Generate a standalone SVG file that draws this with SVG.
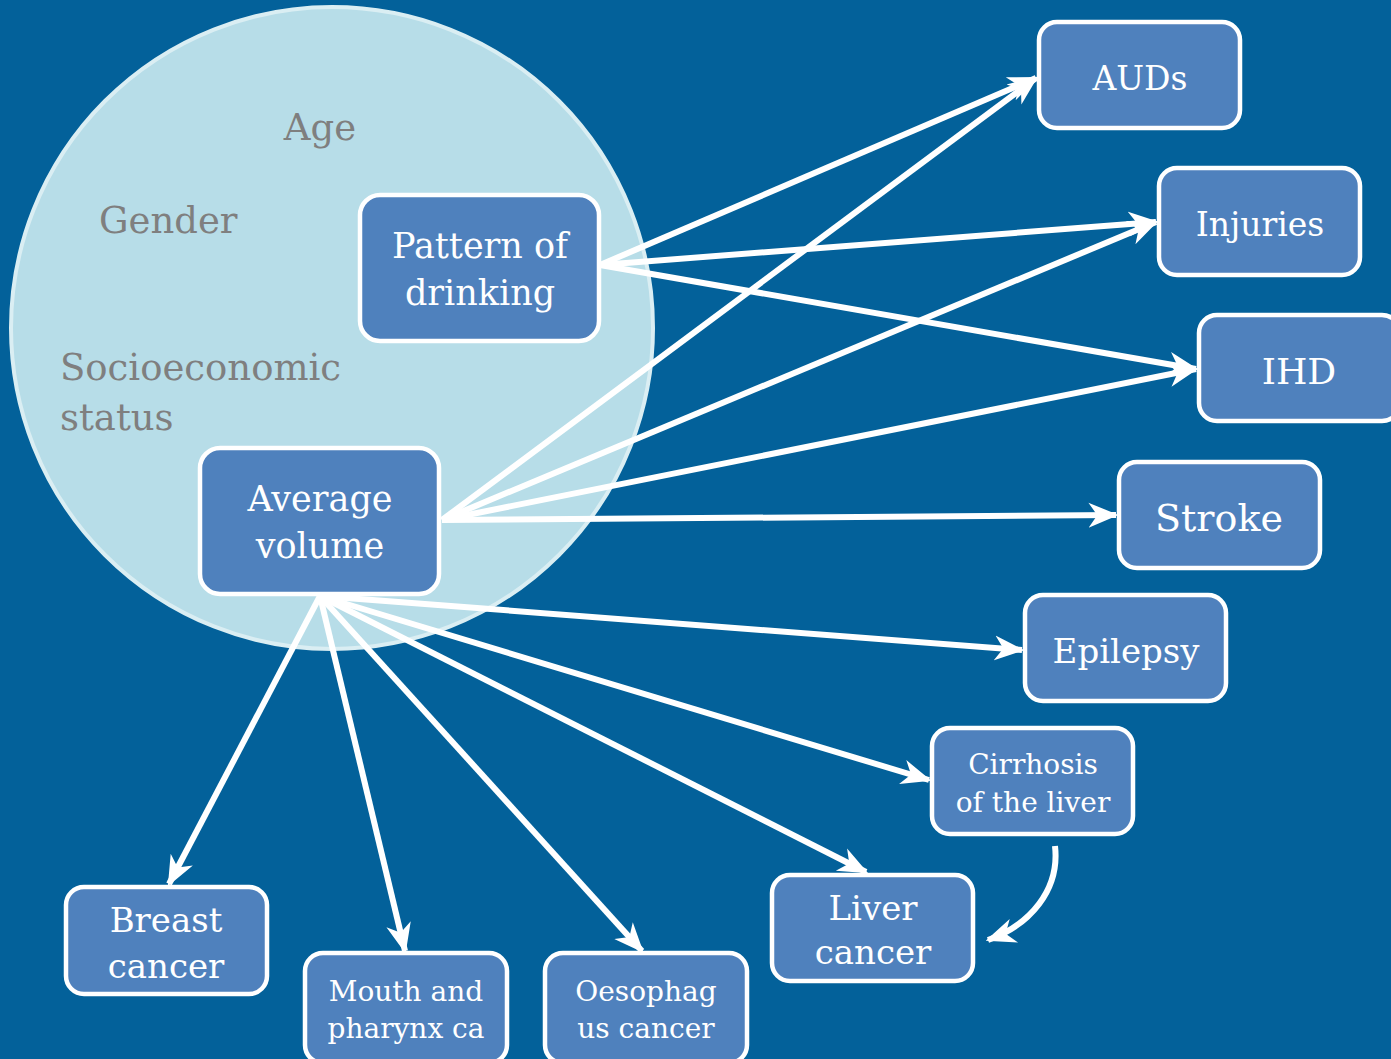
<svg xmlns="http://www.w3.org/2000/svg" width="1391" height="1059" viewBox="0 0 1391 1059">
<style>
.box{fill:#4F81BD;stroke:#FFFFFF;stroke-width:4.5}
.t{font-family:"DejaVu Serif","Liberation Serif",serif;fill:#FFFFFF;text-anchor:middle}
.g{font-family:"DejaVu Serif","Liberation Serif",serif;fill:#7F7F7F;font-size:37px}
.c{fill:none;stroke:#FFFFFF;stroke-width:6;marker-end:url(#ah)}
</style>
<defs>
<marker id="ah" viewBox="0 0 12 10" refX="11" refY="5" markerWidth="5" markerHeight="4.6" orient="auto" markerUnits="strokeWidth">
<path d="M0,0 L12,5 L0,10 L3.5,5 z" fill="#FFFFFF"/>
</marker>
</defs>
<rect x="0" y="0" width="1391" height="1059" fill="#03619A"/>
<g id="context">
<circle cx="332" cy="328" r="321" fill="#B7DDE8" stroke="#DAEEF3" stroke-width="4"/>
<text class="g" x="320" y="140" text-anchor="middle">Age</text>
<text class="g" x="99" y="233">Gender</text>
<text class="g" x="60" y="380">Socioeconomic</text>
<text class="g" x="60" y="430">status</text>
</g>
<g id="connectors">
<line class="c" x1="600" y1="265" x2="1036" y2="78"/>
<line class="c" x1="600" y1="265" x2="1156" y2="222"/>
<line class="c" x1="600" y1="265" x2="1196" y2="369"/>
<line class="c" x1="442" y1="520" x2="1036" y2="78"/>
<line class="c" x1="442" y1="520" x2="1156" y2="222"/>
<line class="c" x1="442" y1="520" x2="1196" y2="369"/>
<line class="c" x1="442" y1="520" x2="1116" y2="515"/>
<line class="c" x1="320" y1="596" x2="1022" y2="650"/>
<line class="c" x1="320" y1="596" x2="929" y2="780"/>
<line class="c" x1="320" y1="596" x2="866" y2="872"/>
<line class="c" x1="320" y1="596" x2="642" y2="951"/>
<line class="c" x1="320" y1="596" x2="405" y2="951"/>
<line class="c" x1="320" y1="596" x2="169" y2="884"/>
<path class="c" d="M1055,846 C1060,890 1030,925 988,940"/>
</g>
<g id="pattern">
<rect class="box" x="360" y="195" width="239" height="146" rx="20"/>
<text class="t" x="480" y="258" font-size="35">Pattern of</text>
<text class="t" x="480" y="305" font-size="35">drinking</text>
</g>
<g id="average">
<rect class="box" x="200" y="448" width="239" height="146" rx="20"/>
<text class="t" x="320" y="511" font-size="35">Average</text>
<text class="t" x="320" y="558" font-size="35">volume</text>
</g>
<g id="auds">
<rect class="box" x="1039" y="22" width="201" height="106" rx="18"/>
<text class="t" x="1140" y="90" font-size="33">AUDs</text>
</g>
<g id="injuries">
<rect class="box" x="1159" y="168" width="201" height="107" rx="18"/>
<text class="t" x="1260" y="236" font-size="33">Injuries</text>
</g>
<g id="ihd">
<rect class="box" x="1199" y="315" width="201" height="106" rx="18"/>
<text class="t" x="1299" y="384" font-size="36">IHD</text>
</g>
<g id="stroke">
<rect class="box" x="1119" y="462" width="201" height="106" rx="18"/>
<text class="t" x="1219" y="531" font-size="38">Stroke</text>
</g>
<g id="epilepsy">
<rect class="box" x="1025" y="595" width="201" height="106" rx="18"/>
<text class="t" x="1126" y="663" font-size="34">Epilepsy</text>
</g>
<g id="cirrhosis">
<rect class="box" x="932" y="728" width="201" height="106" rx="18"/>
<text class="t" x="1033" y="774" font-size="28">Cirrhosis</text>
<text class="t" x="1033" y="812" font-size="28">of the liver</text>
</g>
<g id="liver">
<rect class="box" x="772" y="875" width="201" height="106" rx="18"/>
<text class="t" x="873" y="920" font-size="34">Liver</text>
<text class="t" x="873" y="964" font-size="34">cancer</text>
</g>
<g id="breast">
<rect class="box" x="66" y="887" width="201" height="107" rx="18"/>
<text class="t" x="166" y="932" font-size="34">Breast</text>
<text class="t" x="166" y="978" font-size="34">cancer</text>
</g>
<g id="mouth">
<rect class="box" x="305" y="953" width="202" height="110" rx="18"/>
<text class="t" x="406" y="1001" font-size="28">Mouth and</text>
<text class="t" x="406" y="1038" font-size="28">pharynx ca</text>
</g>
<g id="oesophagus">
<rect class="box" x="545" y="953" width="202" height="110" rx="18"/>
<text class="t" x="646" y="1001" font-size="28">Oesophag</text>
<text class="t" x="646" y="1038" font-size="28">us cancer</text>
</g>
</svg>
